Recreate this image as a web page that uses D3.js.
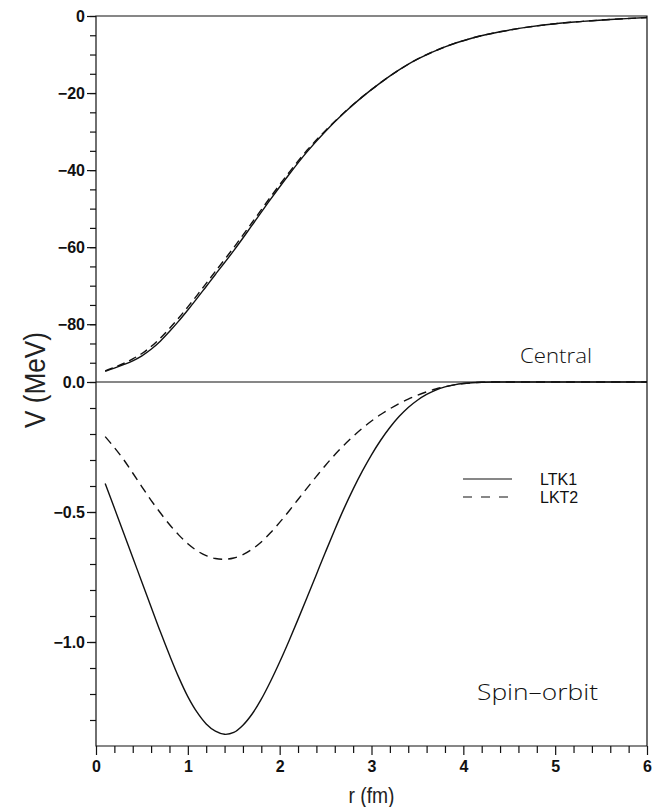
<!DOCTYPE html>
<html>
<head>
<meta charset="utf-8">
<script src="https://cdn.jsdelivr.net/npm/d3@7"></script>
<style>
  body { margin: 0; background: #fff; }
  .tick text { font-family: "Liberation Sans", Arial, sans-serif; font-weight: bold; font-size: 16px; fill: #111; }
  .tick line { stroke: #111; stroke-width: 1.2; }
  .curve { fill: none; stroke: #111; stroke-width: 1.4; }
  .narrow { font-family: "Liberation Sans Narrow", "Arial Narrow", "Liberation Sans", sans-serif; fill: #222; }
  .thin { font-family: "Open Sans", "DejaVu Sans", sans-serif; font-weight: 300; fill: #111; }
</style>
</head>
<body>
<div class="svg_container"></div>
<script>
const WIDTH = 655;
const HEIGHT = 807;
const LEFT = 96;
const RIGHT = 647;
const TOP = 16;
const MID = 382;
const BOTTOM = 746;

// central potential (MeV) vs r (fm)
var rCentral = [0.1, 0.2, 0.3, 0.4, 0.5, 0.6, 0.7, 0.8, 0.9, 1.0, 1.1, 1.2, 1.3,
                1.5, 1.7, 1.9, 2.1, 2.3, 2.5, 2.7, 2.9, 3.1, 3.3, 3.5,
                3.8, 4.1, 4.4, 4.7, 5.0, 5.3, 5.6, 6.0];
var centralLTK1 = [-92.2, -91.4, -90.5, -89.5, -88.2, -86.5, -84.4, -81.9, -79.2, -76.3, -73.3, -70.2, -67.1,
                   -60.9, -54.3, -47.6, -41.2, -35.2, -29.9, -25.2, -21.0, -17.3, -14.0, -11.2,
                   -8.0, -5.7, -4.1, -2.9, -2.0, -1.4, -0.9, -0.4];
var centralLKT2 = [-92.1, -91.2, -90.2, -89.0, -87.6, -85.8, -83.6, -81.1, -78.4, -75.5, -72.5, -69.4, -66.3,
                   -60.1, -53.6, -47.0, -40.7, -34.8, -29.7, -25.1, -21.0, -17.3, -14.0, -11.2,
                   -8.0, -5.7, -4.1, -2.9, -2.0, -1.4, -0.9, -0.4];

// spin-orbit potential (MeV) vs r (fm)
var rSpin = [0.1, 0.2, 0.3, 0.4, 0.5, 0.6, 0.7, 0.8, 0.9, 1.0,
             1.1, 1.2, 1.3, 1.4, 1.5, 1.6, 1.7, 1.8, 1.9, 2.0,
             2.1, 2.2, 2.3, 2.4, 2.5, 2.6, 2.7, 2.8, 2.9, 3.0,
             3.1, 3.2, 3.3, 3.4, 3.5, 3.6, 3.7, 3.8, 3.9, 4.0,
             4.2, 4.4, 5.0, 6.0];
var spinLTK1 = [-0.39, -0.485, -0.58, -0.675, -0.77, -0.865, -0.96, -1.05, -1.135, -1.21,
                -1.27, -1.315, -1.343, -1.355, -1.348, -1.32, -1.277, -1.22, -1.152, -1.077,
                -0.997, -0.913, -0.827, -0.74, -0.653, -0.568, -0.487, -0.412, -0.343, -0.28,
                -0.224, -0.175, -0.133, -0.098, -0.07, -0.048, -0.031, -0.019, -0.011, -0.006,
                -0.001, 0, 0, 0];
var spinLKT2 = [-0.21, -0.252, -0.298, -0.35, -0.403, -0.455, -0.503, -0.548, -0.588, -0.622,
                -0.649, -0.668, -0.679, -0.682, -0.677, -0.664, -0.643, -0.615, -0.58, -0.54,
                -0.497, -0.452, -0.407, -0.363, -0.32, -0.28, -0.243, -0.209, -0.178, -0.15,
                -0.125, -0.103, -0.083, -0.066, -0.051, -0.038, -0.027, -0.018, -0.011, -0.006,
                -0.001, 0, 0, 0];

var seriesNames = ["LTK1", "LKT2"];
var xTicks = [0, 1, 2, 3, 4, 5, 6];
var topTicks = [0, -20, -40, -60, -80];
var bottomTicks = [0, -0.5, -1.0];

var translate = function (x, y) {
  return "translate(" + x + "," + y + ")";
};

var _xScale = d3.scaleLinear().domain([0, 6]).range([LEFT, RIGHT]);
var _yTop = d3.scaleLinear().domain([-95, 0]).range([MID, TOP]);
var _yBottom = d3.scaleLinear().domain([-1.4, 0]).range([BOTTOM, MID]);

var makeLine = function (xs, yScale) {
  return d3.line()
    .x(function (d, i) { return _xScale(xs[i]); })
    .y(function (d) { return yScale(d); })
    .curve(d3.curveCatmullRom.alpha(0.5));
};

var noDomain = function (g) { g.select(".domain").remove(); };

var loadAxis = function (svg) {
  // minor ticks first, then the labelled ones
  svg.append("g").attr("transform", translate(LEFT, 0))
    .call(d3.axisLeft(_yTop).tickValues(d3.range(-90, 1, 5)).tickSize(6).tickFormat(""))
    .call(noDomain);
  svg.append("g").attr("transform", translate(LEFT, 0))
    .call(d3.axisLeft(_yTop).tickValues(topTicks).tickSize(9).tickPadding(2).tickFormat(d3.format("d")))
    .call(noDomain);

  svg.append("g").attr("transform", translate(LEFT, 0))
    .call(d3.axisLeft(_yBottom).tickValues(d3.range(-13, 1).map(function (v) { return v / 10; })).tickSize(6).tickFormat(""))
    .call(noDomain);
  svg.append("g").attr("transform", translate(LEFT, 0))
    .call(d3.axisLeft(_yBottom).tickValues(bottomTicks).tickSize(9).tickPadding(2).tickFormat(d3.format(".1f")))
    .call(noDomain);

  svg.append("g").attr("transform", translate(0, BOTTOM))
    .call(d3.axisBottom(_xScale).tickValues(d3.range(1, 30).filter(function (v) { return v % 5 != 0; }).map(function (v) { return v / 5; })).tickSize(7).tickFormat(""))
    .call(noDomain);
  svg.append("g").attr("transform", translate(0, BOTTOM))
    .call(d3.axisBottom(_xScale).tickValues(xTicks).tickSize(9).tickPadding(6).tickFormat(d3.format("d")))
    .call(noDomain);

  // frame and panel separator
  svg.append("path")
    .attr("d", "M" + LEFT + "," + TOP + "H" + RIGHT + "V" + BOTTOM + "H" + LEFT + "Z")
    .attr("fill", "none").attr("stroke", "#111").attr("stroke-width", 1.2);
  svg.append("line")
    .attr("x1", LEFT).attr("x2", RIGHT)
    .attr("y1", _yBottom(0)).attr("y2", _yBottom(0))
    .attr("stroke", "#111").attr("stroke-width", 1.2);
};

var createCurves = function (svg) {
  var topLine = makeLine(rCentral, _yTop);
  var botLine = makeLine(rSpin, _yBottom);

  svg.append("path").attr("class", "curve").attr("d", topLine(centralLTK1));
  svg.append("path").attr("class", "curve").attr("stroke-dasharray", "8,5").attr("d", topLine(centralLKT2));
  svg.append("path").attr("class", "curve").attr("d", botLine(spinLTK1));
  svg.append("path").attr("class", "curve").attr("stroke-dasharray", "9,6").attr("d", botLine(spinLKT2));
};

var createLabels = function (svg) {
  svg.append("text").attr("class", "narrow")
    .attr("transform", translate(45, 380) + " rotate(-90)")
    .attr("text-anchor", "middle").style("font-size", "29px")
    .attr("textLength", 96).attr("lengthAdjust", "spacingAndGlyphs")
    .text("V (MeV)");
  svg.append("text").attr("class", "narrow")
    .attr("x", _xScale(3)).attr("y", 803)
    .attr("text-anchor", "middle").style("font-size", "22px")
    .attr("textLength", 46).attr("lengthAdjust", "spacingAndGlyphs")
    .text("r (fm)");
  svg.append("text").attr("class", "thin")
    .attr("x", 520).attr("y", 363).style("font-size", "21px")
    .attr("textLength", 72).attr("lengthAdjust", "spacingAndGlyphs")
    .text("Central");
  svg.append("text").attr("class", "thin")
    .attr("x", 477).attr("y", 700).style("font-size", "22px")
    .attr("textLength", 121).attr("lengthAdjust", "spacingAndGlyphs")
    .text("Spin\u2013orbit");

  var legend = svg.append("g").attr("transform", translate(463, 479));
  legend.selectAll("line").data(seriesNames).enter().append("line")
    .attr("x1", 0).attr("x2", 49)
    .attr("y1", function (d, i) { return i * 18; })
    .attr("y2", function (d, i) { return i * 18; })
    .attr("stroke", "#111").attr("stroke-width", 1.2)
    .attr("stroke-dasharray", function (d, i) { return i ? "9,9" : null; });
  legend.selectAll("text").data(seriesNames).enter().append("text")
    .attr("x", 77).attr("y", function (d, i) { return i * 18 + 6; })
    .style("font-family", "'Liberation Sans', Arial, sans-serif")
    .style("font-size", "16px").attr("fill", "#111")
    .text(function (d) { return d; });
};

var loadDefault = function () {
  var svg = d3.select(".svg_container").append("svg")
    .attr("width", WIDTH)
    .attr("height", HEIGHT);

  loadAxis(svg);
  createCurves(svg);
  createLabels(svg);
};

window.onload = loadDefault;
</script>
</body>
</html>
